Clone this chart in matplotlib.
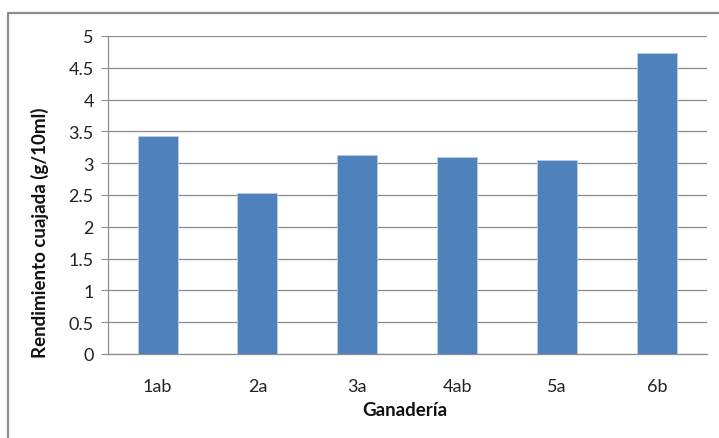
import matplotlib
matplotlib.use("Agg")
import matplotlib.pyplot as plt
from matplotlib.lines import Line2D

categories = ["1ab", "2a", "3a", "4ab", "5a", "6b"]
rendimiento = [3.42, 2.53, 3.13, 3.10, 3.05, 4.73]
y_ticks = [0, 0.5, 1, 1.5, 2, 2.5, 3, 3.5, 4, 4.5, 5]
y_tick_labels = ["0", "0.5", "1", "1.5", "2", "2.5", "3", "3.5", "4", "4.5", "5"]

plt.rcParams["font.family"] = ["Lato", "DejaVu Sans"]

W, H = 719, 439
fig = plt.figure(figsize=(W / 100, H / 100), dpi=100)

# chart-area frame (top and left edges run off the canvas)
frame_x = [7.5 / W, 7.5 / W, 1.0]
frame_y = [0.0, 1 - 14 / H, 1 - 14 / H]
fig.add_artist(Line2D(frame_x, frame_y, transform=fig.transFigure,
                      color="#8c8c8c", linewidth=1.6))

ax = fig.add_axes([107.7 / W, 1 - 355 / H, (706.7 - 107.7) / W, (355 - 37) / H])
x = range(len(categories))
ax.bar(x, rendimiento, width=0.4, color="#4F81BD", edgecolor="#b9cde5",
       linewidth=0.6, zorder=3)

ax.set_xlim(-0.5, len(categories) - 0.5)
ax.set_ylim(0, 5)
ax.set_yticks(y_ticks)
ax.set_yticklabels(y_tick_labels)
ax.set_xticks(list(x))
ax.set_xticklabels(categories)

ax.yaxis.grid(True, color="#8c8c8c", linewidth=0.9, zorder=0)
for side in ("top", "right"):
    ax.spines[side].set_visible(False)
for side in ("left", "bottom"):
    ax.spines[side].set_color("#8c8c8c")
    ax.spines[side].set_linewidth(0.9)

ax.tick_params(axis="y", length=5, color="#8c8c8c", labelsize=13,
               labelcolor="#222222", pad=5)
ax.tick_params(axis="x", length=0, labelsize=13, labelcolor="#222222", pad=17)

# axis titles
fig.text(40 / W, 1 - 233 / H, "Rendimiento cuajada (g/10ml)", rotation=90,
         ha="center", va="center", fontsize=13.5, fontweight="bold",
         color="#111111")
fig.text(405 / W, 1 - 411 / H, "Ganadería", ha="center", va="center",
         fontsize=13.5, fontweight="bold", color="#111111")

fig.savefig("out.png", dpi=100)
